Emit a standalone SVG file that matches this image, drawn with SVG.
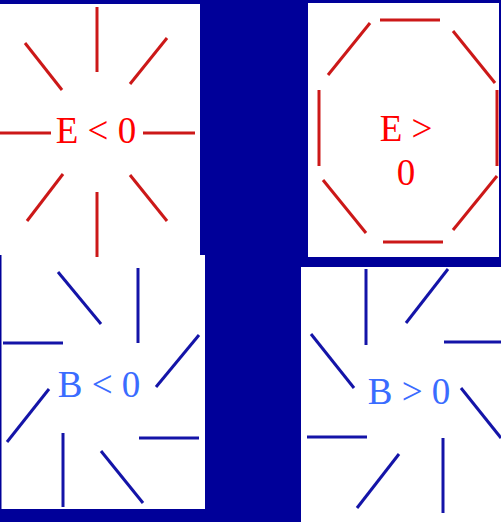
<svg xmlns="http://www.w3.org/2000/svg" width="501" height="522" viewBox="0 0 501 522">
<style>
.panel{fill:#ffffff}
.r{stroke:#cc1818;stroke-width:3;fill:none}
.b{stroke:#1414a8;stroke-width:3;fill:none}
.tr{font-family:"Liberation Serif",serif;font-size:37px;fill:#ff0000;text-anchor:middle}
.tb{font-family:"Liberation Serif",serif;font-size:37px;fill:#3a6cff;text-anchor:middle}
</style>
<rect x="0" y="0" width="501" height="522" fill="#000099"/>
<g id="panel-e-neg">
<rect class="panel" x="0" y="4" width="200" height="251"/>
</g>
<g id="panel-e-pos">
<rect class="panel" x="308" y="3" width="191" height="254"/>
</g>
<g id="panel-b-neg">
<rect class="panel" x="1.5" y="255" width="203.5" height="254"/>
</g>
<g id="panel-b-pos">
<rect class="panel" x="301" y="267" width="200" height="255"/>
</g>
<g id="connectors">
<g id="e-neg-lines" class="r">
<line x1="97" y1="7" x2="97" y2="72"/>
<line x1="97" y1="192" x2="97" y2="257"/>
<line x1="0" y1="133" x2="51" y2="133"/>
<line x1="143" y1="133" x2="195" y2="133"/>
<line x1="25" y1="43" x2="62" y2="90"/>
<line x1="167" y1="38" x2="130" y2="84"/>
<line x1="63" y1="174" x2="27" y2="221"/>
<line x1="130" y1="175" x2="167" y2="221"/>
</g>
<g id="e-pos-lines" class="r">
<line x1="380" y1="20" x2="440" y2="20"/>
<line x1="383" y1="242" x2="443" y2="242"/>
<line x1="319" y1="90" x2="319" y2="166"/>
<line x1="497" y1="90" x2="497" y2="166"/>
<line x1="370" y1="23" x2="328" y2="75"/>
<line x1="453" y1="31" x2="495" y2="83"/>
<line x1="323" y1="180" x2="366" y2="233"/>
<line x1="497" y1="176" x2="453" y2="230"/>
</g>
<g id="b-neg-lines" class="b">
<line x1="58" y1="272" x2="101" y2="324"/>
<line x1="138" y1="268" x2="138" y2="343"/>
<line x1="3" y1="343" x2="63" y2="343"/>
<line x1="199" y1="335" x2="156" y2="387"/>
<line x1="49" y1="389" x2="7" y2="442"/>
<line x1="63" y1="433" x2="63" y2="507"/>
<line x1="139" y1="438" x2="199" y2="438"/>
<line x1="101" y1="451" x2="143" y2="503"/>
</g>
<g id="b-pos-lines" class="b">
<line x1="366" y1="269" x2="366" y2="345"/>
<line x1="448" y1="269" x2="406" y2="323"/>
<line x1="444" y1="342" x2="501" y2="342"/>
<line x1="311" y1="334" x2="354" y2="388"/>
<line x1="461" y1="388" x2="501" y2="438"/>
<line x1="307" y1="437" x2="367" y2="437"/>
<line x1="399" y1="454" x2="357" y2="508"/>
<line x1="443" y1="438" x2="443" y2="513"/>
</g>
</g>
<text class="tr" x="96" y="143">E &lt; 0</text>
<text class="tr" x="406" y="141">E &gt;</text>
<text class="tr" x="406" y="185">0</text>
<text class="tb" x="99" y="397">B &lt; 0</text>
<text class="tb" x="409" y="404">B &gt; 0</text>
</svg>
